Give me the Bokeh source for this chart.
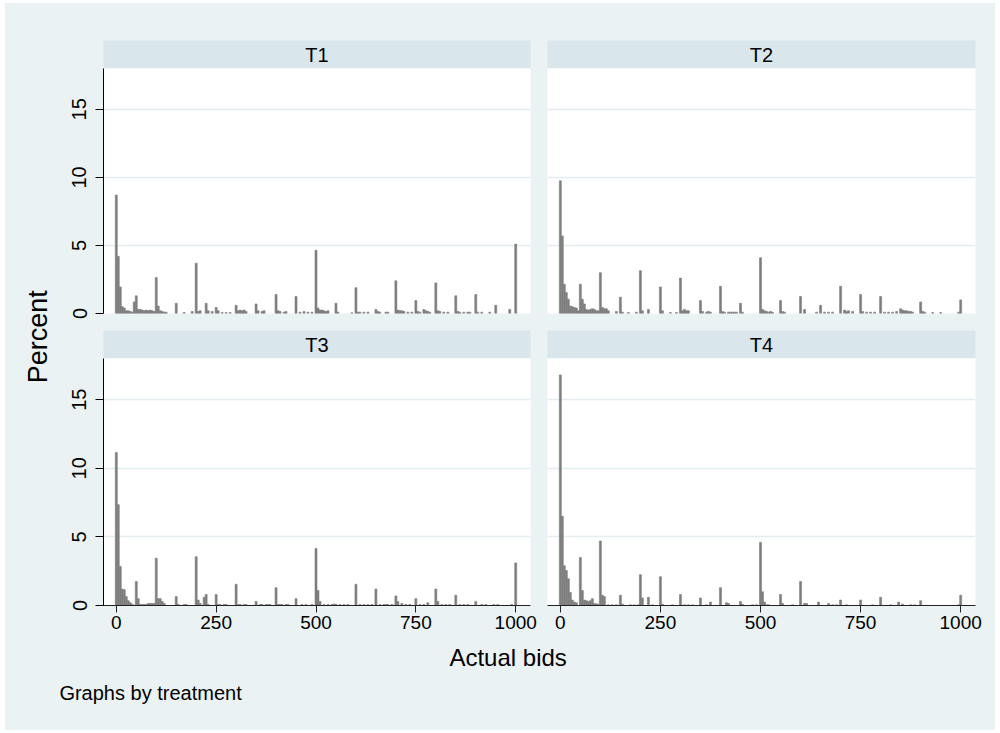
import numpy as np
from bokeh.plotting import figure
from bokeh.models import ColumnDataSource, GridBox, Range1d, FixedTicker
from bokeh.core.properties import value
from bokeh.embed import file_html
from bokeh.resources import INLINE

# ---------------- data (histogram of actual bids, percent per bin) ----------------
BIN_WIDTH = 5
treatments = ["T1", "T2", "T3", "T4"]
x_ticks = [0, 250, 500, 750, 1000]
y_ticks = [0, 5, 10, 15]

t1_bid = [0, 5, 10, 15, 20, 25, 30, 35, 40, 45,
          50, 55, 60, 65, 70, 75, 80, 85, 90, 95,
          100, 105, 110, 115, 120, 125, 150, 170, 190, 200,
          205, 210, 225, 230, 240, 250, 255, 265, 275, 285,
          300, 305, 310, 315, 320, 325, 350, 355, 365, 370,
          400, 405, 410, 420, 425, 450, 460, 470, 480, 490,
          500, 505, 510, 515, 520, 525, 530, 550, 555, 590,
          600, 605, 610, 620, 630, 650, 655, 660, 675, 680,
          700, 705, 710, 715, 720, 730, 740, 750, 755, 760,
          770, 775, 780, 785, 800, 805, 810, 820, 830, 850,
          855, 860, 870, 880, 885, 900, 905, 915, 935, 950,
          985, 1000]
t1_pct = [8.7, 4.2, 1.95, 0.5, 0.4, 0.2, 0.2, 0.15, 0.1, 0.85,
          1.3, 0.3, 0.3, 0.25, 0.2, 0.25, 0.2, 0.25, 0.2, 0.15,
          2.65, 0.55, 0.2, 0.15, 0.1, 0.1, 0.75, 0.07, 0.15, 3.7,
          0.15, 0.2, 0.75, 0.2, 0.15, 0.45, 0.2, 0.07, 0.07, 0.07,
          0.6, 0.2, 0.25, 0.2, 0.25, 0.15, 0.7, 0.2, 0.15, 0.2,
          1.4, 0.2, 0.15, 0.1, 0.15, 1.25, 0.1, 0.15, 0.1, 0.1,
          4.65, 0.4, 0.25, 0.25, 0.2, 0.15, 0.2, 0.75, 0.1, 0.05,
          1.9, 0.1, 0.1, 0.1, 0.1, 0.3, 0.15, 0.1, 0.1, 0.1,
          2.4, 0.25, 0.2, 0.2, 0.15, 0.1, 0.1, 0.95, 0.15, 0.1,
          0.3, 0.2, 0.15, 0.1, 2.25, 0.2, 0.15, 0.1, 0.1, 1.3,
          0.15, 0.1, 0.1, 0.1, 0.1, 1.4, 0.1, 0.1, 0.1, 0.6,
          0.3, 5.1]

t2_bid = [0, 5, 10, 15, 20, 25, 30, 35, 40, 45,
          50, 55, 60, 65, 70, 75, 80, 85, 90, 95,
          100, 105, 110, 115, 120, 140, 150, 155, 170, 190,
          200, 205, 220, 250, 255, 275, 290, 300, 305, 310,
          315, 320, 350, 355, 365, 370, 375, 400, 405, 410,
          420, 425, 430, 435, 440, 450, 455, 500, 505, 510,
          515, 520, 525, 530, 550, 555, 560, 600, 610, 640,
          650, 660, 670, 680, 700, 710, 715, 720, 730, 750,
          755, 765, 775, 785, 800, 810, 820, 830, 840, 850,
          855, 860, 865, 870, 875, 880, 900, 905, 910, 930,
          950, 995, 1000]
t2_pct = [9.75, 5.7, 2.15, 1.55, 1.05, 0.55, 0.5, 0.45, 0.4, 0.2,
          2.15, 1.05, 0.7, 0.3, 0.25, 0.3, 0.35, 0.3, 0.2, 0.2,
          3.0, 0.45, 0.35, 0.35, 0.2, 0.15, 1.2, 0.1, 0.07, 0.1,
          3.15, 0.2, 0.3, 1.95, 0.2, 0.07, 0.07, 2.6, 0.2, 0.3,
          0.2, 0.2, 0.95, 0.15, 0.1, 0.15, 0.1, 2.0, 0.15, 0.1,
          0.1, 0.1, 0.1, 0.1, 0.1, 0.75, 0.1, 4.1, 0.3, 0.2,
          0.15, 0.1, 0.15, 0.1, 0.95, 0.15, 0.1, 1.25, 0.3, 0.1,
          0.6, 0.1, 0.1, 0.1, 2.0, 0.25, 0.15, 0.2, 0.15, 1.4,
          0.15, 0.1, 0.1, 0.1, 1.25, 0.1, 0.1, 0.1, 0.15, 0.35,
          0.25, 0.2, 0.2, 0.15, 0.15, 0.1, 0.85, 0.15, 0.1, 0.07,
          0.07, 0.1, 1.0]

t3_bid = [0, 5, 10, 15, 20, 25, 30, 35, 40, 50,
          55, 60, 65, 70, 75, 80, 85, 90, 95, 100,
          105, 110, 115, 120, 150, 155, 170, 175, 200, 205,
          210, 220, 225, 230, 250, 255, 260, 270, 275, 300,
          305, 310, 320, 325, 350, 360, 365, 375, 380, 385,
          400, 405, 410, 415, 425, 430, 450, 465, 475, 490,
          500, 505, 510, 520, 530, 540, 545, 550, 560, 570,
          580, 600, 610, 620, 630, 640, 650, 660, 670, 675,
          680, 690, 700, 705, 715, 725, 735, 750, 760, 770,
          780, 800, 805, 815, 825, 835, 850, 860, 870, 880,
          900, 915, 925, 945, 955, 990, 1000]
t3_pct = [11.15, 7.35, 2.85, 1.2, 1.15, 0.65, 0.35, 0.2, 0.1, 1.75,
          0.5, 0.08, 0.08, 0.08, 0.08, 0.15, 0.15, 0.15, 0.15, 3.45,
          0.5, 0.5, 0.3, 0.15, 0.65, 0.08, 0.08, 0.08, 3.55, 0.4,
          0.15, 0.6, 0.8, 0.08, 0.8, 0.08, 0.08, 0.08, 0.08, 1.55,
          0.07, 0.07, 0.07, 0.07, 0.3, 0.07, 0.07, 0.07, 0.07, 0.07,
          1.3, 0.07, 0.07, 0.07, 0.07, 0.07, 0.5, 0.07, 0.07, 0.07,
          4.15, 1.1, 0.3, 0.07, 0.07, 0.07, 0.1, 0.1, 0.07, 0.07,
          0.07, 1.55, 0.07, 0.07, 0.07, 0.07, 1.2, 0.07, 0.07, 0.07,
          0.07, 0.07, 0.7, 0.3, 0.15, 0.07, 0.07, 0.5, 0.07, 0.07,
          0.2, 1.2, 0.3, 0.07, 0.07, 0.07, 0.75, 0.07, 0.07, 0.07,
          0.3, 0.07, 0.07, 0.07, 0.07, 0.07, 3.1]

t4_bid = [0, 5, 10, 15, 20, 25, 30, 35, 40, 50,
          55, 60, 65, 70, 75, 80, 85, 90, 95, 100,
          105, 110, 120, 130, 140, 150, 155, 175, 185, 195,
          200, 205, 220, 230, 250, 255, 280, 300, 310, 320,
          330, 350, 365, 375, 400, 415, 420, 450, 455, 480,
          490, 500, 505, 510, 515, 520, 550, 555, 580, 600,
          610, 615, 645, 670, 680, 690, 700, 715, 750, 780,
          800, 825, 845, 855, 875, 885, 900, 995, 1000]
t4_pct = [16.8, 6.5, 2.9, 2.55, 1.95, 0.95, 0.4, 0.25, 0.2, 3.5,
          1.1, 0.4, 0.35, 0.3, 0.35, 0.5, 0.15, 0.12, 0.1, 4.7,
          0.75, 0.65, 0.05, 0.05, 0.05, 0.75, 0.1, 0.05, 0.05, 0.05,
          2.25, 0.55, 0.6, 0.05, 2.1, 0.1, 0.05, 0.8, 0.05, 0.05,
          0.05, 0.55, 0.05, 0.25, 1.3, 0.2, 0.15, 0.3, 0.1, 0.05,
          0.05, 4.6, 1.0, 0.25, 0.05, 0.05, 0.8, 0.15, 0.05, 1.75,
          0.15, 0.15, 0.25, 0.15, 0.05, 0.05, 0.4, 0.05, 0.4, 0.05,
          0.6, 0.05, 0.25, 0.1, 0.05, 0.05, 0.35, 0.05, 0.75]

series = {"T1": (t1_bid, t1_pct), "T2": (t2_bid, t2_pct),
          "T3": (t3_bid, t3_pct), "T4": (t4_bid, t4_pct)}

# ---------------- styling ----------------
BG = "#EAF2F3"
STRIP = "#D9E6EB"
GRID = "#E4ECEF"
BAR = "#7E7E7E"
FONT = "Liberation Sans"
X_RANGE = (-32, 1037)
Y_RANGE = (0, 18)

LEFT_W, RIGHT_W = 483, 457
LEFT_MB = (48, 8)     # min_border_left, min_border_right
RIGHT_MB = (9, 20)


def base_fig(w, h, mb, x_range, y_range, xloc=None, yloc=None):
    p = figure(width=w, height=h, x_range=Range1d(*x_range), y_range=Range1d(*y_range),
               x_axis_location=xloc, y_axis_location=yloc,
               output_backend="svg", toolbar_location=None,
               min_border_left=mb[0], min_border_right=mb[1],
               min_border_top=mb[2], min_border_bottom=mb[3])
    p.border_fill_color = BG
    p.outline_line_color = None
    p.styles = {"background-color": BG}
    return p


def header(label, w, h, mb):
    p = base_fig(w, h, mb, (0, 1), (0, 1))
    p.background_fill_color = STRIP
    p.xgrid.visible = False
    p.ygrid.visible = False
    p.text(x=[0.5], y=[0.5], text=[label], text_align="center", text_baseline="middle",
           text_font=value(FONT), text_font_size="20px", text_color="black")
    return p


def panel(name, w, h, mb, show_y, show_x):
    p = base_fig(w, h, mb, X_RANGE, Y_RANGE,
                 xloc="below" if show_x else None,
                 yloc="left" if show_y else None)
    p.background_fill_color = "white"
    p.xgrid.visible = False
    p.ygrid.ticker = FixedTicker(ticks=y_ticks)
    p.ygrid.grid_line_color = GRID
    p.ygrid.grid_line_width = 1.5
    bids, pct = series[name]
    b = np.asarray(bids, dtype=float)
    src = ColumnDataSource(dict(left=b - BIN_WIDTH / 2, right=b + BIN_WIDTH / 2,
                                top=pct, bottom=np.zeros(len(b))))
    p.quad(left="left", right="right", top="top", bottom="bottom", source=src,
           fill_color=BAR, line_color=BAR, line_width=0.6)
    if show_y:
        ax = p.yaxis[0]
        ax.ticker = FixedTicker(ticks=y_ticks)
        ax.major_label_orientation = "vertical"
        ax.major_tick_out = 8
        ax.major_tick_in = 0
        ax.minor_tick_out = 0
        ax.minor_tick_in = 0
        ax.axis_line_color = "black"
        ax.major_tick_line_color = "black"
        ax.major_label_standoff = 9
        ax.major_label_text_font = FONT
        ax.major_label_text_font_size = "20px"
        ax.major_label_text_color = "black"
    if show_x:
        ax = p.xaxis[0]
        ax.ticker = FixedTicker(ticks=x_ticks)
        ax.major_tick_out = 7
        ax.major_tick_in = 0
        ax.minor_tick_out = 0
        ax.minor_tick_in = 0
        ax.axis_line_color = "#222222"
        ax.major_tick_line_color = "#222222"
        ax.major_label_standoff = 3
        ax.major_label_text_font = FONT
        ax.major_label_text_font_size = "19px"
        ax.major_label_text_color = "black"
    return p


# header rows
h_tl = header("T1", LEFT_W, 65, (LEFT_MB[0], LEFT_MB[1], 37, 0))
h_tr = header("T2", RIGHT_W, 65, (RIGHT_MB[0], RIGHT_MB[1], 37, 0))
h_bl = header("T3", LEFT_W, 28, (LEFT_MB[0], LEFT_MB[1], 0, 0))
h_br = header("T4", RIGHT_W, 28, (RIGHT_MB[0], RIGHT_MB[1], 0, 0))

# panels
p_tl = panel("T1", LEFT_W, 262, (LEFT_MB[0], LEFT_MB[1], 0, 17), True, False)
p_tr = panel("T2", RIGHT_W, 262, (RIGHT_MB[0], RIGHT_MB[1], 0, 17), False, False)
p_bl = panel("T3", LEFT_W, 282, (LEFT_MB[0], LEFT_MB[1], 0, 35), True, True)
p_br = panel("T4", RIGHT_W, 282, (RIGHT_MB[0], RIGHT_MB[1], 0, 35), False, True)

# y-axis title strip (page coordinates, y inverted)
p_ylab = base_fig(50, 637, (0, 0, 0, 0), (5, 55), (640, 3))
p_ylab.background_fill_color = BG
p_ylab.xgrid.visible = False
p_ylab.ygrid.visible = False
p_ylab.text(x=[37], y=[337], text=["Percent"], angle=np.pi / 2,
            text_align="center", text_baseline="middle",
            text_font=value(FONT), text_font_size="27px", text_color="black")

# footer: x-axis title and note
p_foot = base_fig(990, 90, (0, 0, 0, 0), (5, 995), (730, 640))
p_foot.background_fill_color = BG
p_foot.xgrid.visible = False
p_foot.ygrid.visible = False
p_foot.text(x=[518], y=[657], text=["Actual bids"], text_align="center", text_baseline="middle",
            text_font=value(FONT), text_font_size="24px", text_color="black")
p_foot.text(x=[60], y=[692], text=["Graphs by treatment"], text_align="left", text_baseline="middle",
            text_font=value(FONT), text_font_size="20px", text_color="black")

grid = GridBox(children=[
    (p_ylab, 0, 0, 4, 1),
    (h_tl, 0, 1), (h_tr, 0, 2),
    (p_tl, 1, 1), (p_tr, 1, 2),
    (h_bl, 2, 1), (h_br, 2, 2),
    (p_bl, 3, 1), (p_br, 3, 2),
    (p_foot, 4, 0, 1, 3),
], spacing=0, margin=(3, 5, 3, 5), styles={"background-color": BG})

open("out.html", "w").write(file_html(grid, INLINE))
